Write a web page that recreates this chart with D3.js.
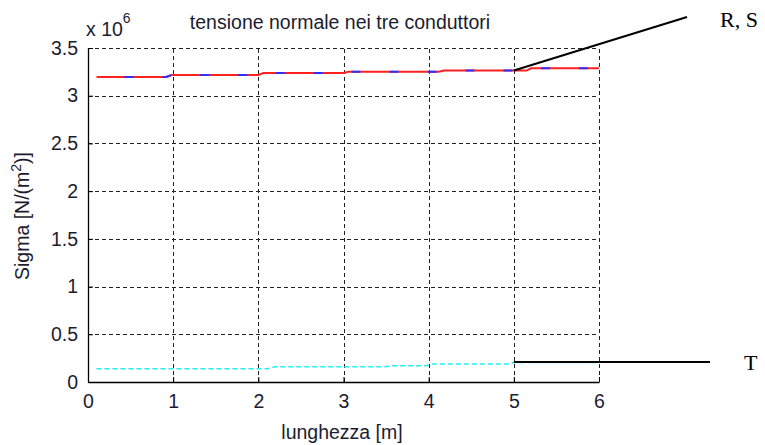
<!DOCTYPE html>
<html>
<head>
<meta charset="utf-8">
<script src="https://cdn.jsdelivr.net/npm/d3@7"></script>
<style>
  html, body { margin: 0; padding: 0; background: #fff; }
  svg { display: block; }
  .lbl { font-family: "Liberation Sans", Arial, sans-serif; fill: #1c1c30; }
  .ann { font-family: "Liberation Serif", "Times New Roman", serif; fill: #000; }
</style>
</head>
<body>
<svg id="chart" width="765" height="445"></svg>
<script>
// Normal stress along the three conductors (Pa), sampled along the length (m)
const lengthRS = [0.1, 0.92, 0.98, 2.0, 2.06, 3.0, 3.06, 4.12, 4.18, 5.15, 5.2, 6.0];
const sigmaR   = [3.196e6, 3.196e6, 3.217e6, 3.217e6, 3.238e6, 3.238e6, 3.252e6, 3.252e6, 3.264e6, 3.264e6, 3.287e6, 3.287e6];
const sigmaS   = [3.196e6, 3.196e6, 3.217e6, 3.217e6, 3.238e6, 3.238e6, 3.252e6, 3.252e6, 3.264e6, 3.264e6, 3.287e6, 3.287e6];

const lengthT  = [0.1, 2.1, 2.2, 3.5, 3.55, 3.98, 4.02, 4.95, 5.0, 6.0];
const sigmaT   = [0.138e6, 0.138e6, 0.160e6, 0.160e6, 0.171e6, 0.171e6, 0.189e6, 0.189e6, 0.205e6, 0.205e6];

const xTicks = [0, 1, 2, 3, 4, 5, 6];
const yTicks = [0, 0.5e6, 1e6, 1.5e6, 2e6, 2.5e6, 3e6, 3.5e6];

const titleText  = "tensione normale nei tre conduttori";
const xLabelText = "lunghezza [m]";

// Callout labels: anchored to a data point, leader line ends in pixel space
const callouts = [
  { label: "R, S", at: [5, 3.264e6], end: [687, 17], text: [720, 27] },
  { label: "T",    at: [5, 0.21e6],  end: [710, 362], text: [744, 370] }
];

const svg = d3.select("#chart");
const m = { left: 88, right: 599, top: 48, bottom: 382 };
const fs = "19.5px";

const x = d3.scaleLinear().domain([0, 6]).range([m.left, m.right]);
const y = d3.scaleLinear().domain([0, 3.5e6]).range([m.bottom, m.top]);

// grid (dashed), including the top and right edges
const grid = svg.append("g").attr("stroke", "#222").attr("stroke-width", 1)
  .attr("stroke-dasharray", "4,3").attr("shape-rendering", "crispEdges");
grid.selectAll("line.gx").data(xTicks.filter(d => d > 0)).join("line")
  .attr("x1", d => Math.round(x(d)) + 0.5).attr("x2", d => Math.round(x(d)) + 0.5)
  .attr("y1", m.bottom).attr("y2", m.top);
grid.selectAll("line.gy").data(yTicks.filter(d => d > 0)).join("line")
  .attr("y1", d => Math.round(y(d)) + 0.5).attr("y2", d => Math.round(y(d)) + 0.5)
  .attr("x1", m.left).attr("x2", m.right);

// axes
const xAxis = d3.axisBottom(x).tickValues(xTicks).tickSizeInner(-5).tickSizeOuter(0).tickPadding(12)
  .tickFormat(d => String(d));
const yAxis = d3.axisLeft(y).tickValues(yTicks).tickSizeInner(-5).tickSizeOuter(0).tickPadding(10)
  .tickFormat(d => String(d / 1e6));

const gx = svg.append("g").attr("transform", `translate(0,${m.bottom})`).call(xAxis);
const gy = svg.append("g").attr("transform", `translate(${m.left},0)`).call(yAxis);
[gx, gy].forEach(g => {
  g.select(".domain").attr("stroke", "#000").attr("stroke-width", 1.3);
  g.selectAll(".tick line").attr("stroke", "#000");
  g.selectAll(".tick text").attr("class", "lbl").style("font-size", fs);
});

// series
const line = d3.line().x(d => x(d[0])).y(d => y(d[1]));
const ptsR = lengthRS.map((v, i) => [v, sigmaR[i]]);
const ptsS = lengthRS.map((v, i) => [v, sigmaS[i]]);
const ptsT = lengthT.map((v, i) => [v, sigmaT[i]]);

svg.append("path").datum(ptsR).attr("d", line)
  .attr("fill", "none").attr("stroke", "#ff2020").attr("stroke-width", 2);
svg.append("path").datum(ptsS).attr("d", line)
  .attr("fill", "none").attr("stroke", "#3030ff").attr("stroke-width", 2)
  .attr("stroke-dasharray", "9,29").attr("stroke-dashoffset", 10);
svg.append("path").datum(ptsT).attr("d", line)
  .attr("fill", "none").attr("stroke", "#20f0f4").attr("stroke-width", 1.5)
  .attr("stroke-dasharray", "5,3");

// title and axis labels
svg.append("text").attr("class", "lbl").attr("x", 340).attr("y", 29)
  .attr("text-anchor", "middle").style("font-size", fs).text(titleText);

const mult = svg.append("text").attr("class", "lbl").attr("x", 86).attr("y", 36).style("font-size", fs);
mult.append("tspan").text("x 10");
mult.append("tspan").attr("dy", -13).style("font-size", "14px").text("6");

svg.append("text").attr("class", "lbl").attr("x", 342).attr("y", 439)
  .attr("text-anchor", "middle").style("font-size", fs).text(xLabelText);

const yl = svg.append("text").attr("class", "lbl")
  .attr("transform", `translate(29,216) rotate(-90)`)
  .attr("text-anchor", "middle").style("font-size", fs);
yl.append("tspan").text("Sigma [N/(m");
yl.append("tspan").attr("dy", -8).style("font-size", "14px").text("2");
yl.append("tspan").attr("dy", 8).text(")]");

// callouts
const cg = svg.append("g");
cg.selectAll("line").data(callouts).join("line")
  .attr("x1", d => x(d.at[0])).attr("y1", d => y(d.at[1]))
  .attr("x2", d => d.end[0]).attr("y2", d => d.end[1])
  .attr("stroke", "#000").attr("stroke-width", 2);
cg.selectAll("text").data(callouts).join("text").attr("class", "ann")
  .attr("x", d => d.text[0]).attr("y", d => d.text[1])
  .style("font-size", "22px").text(d => d.label);
</script>
</body>
</html>
